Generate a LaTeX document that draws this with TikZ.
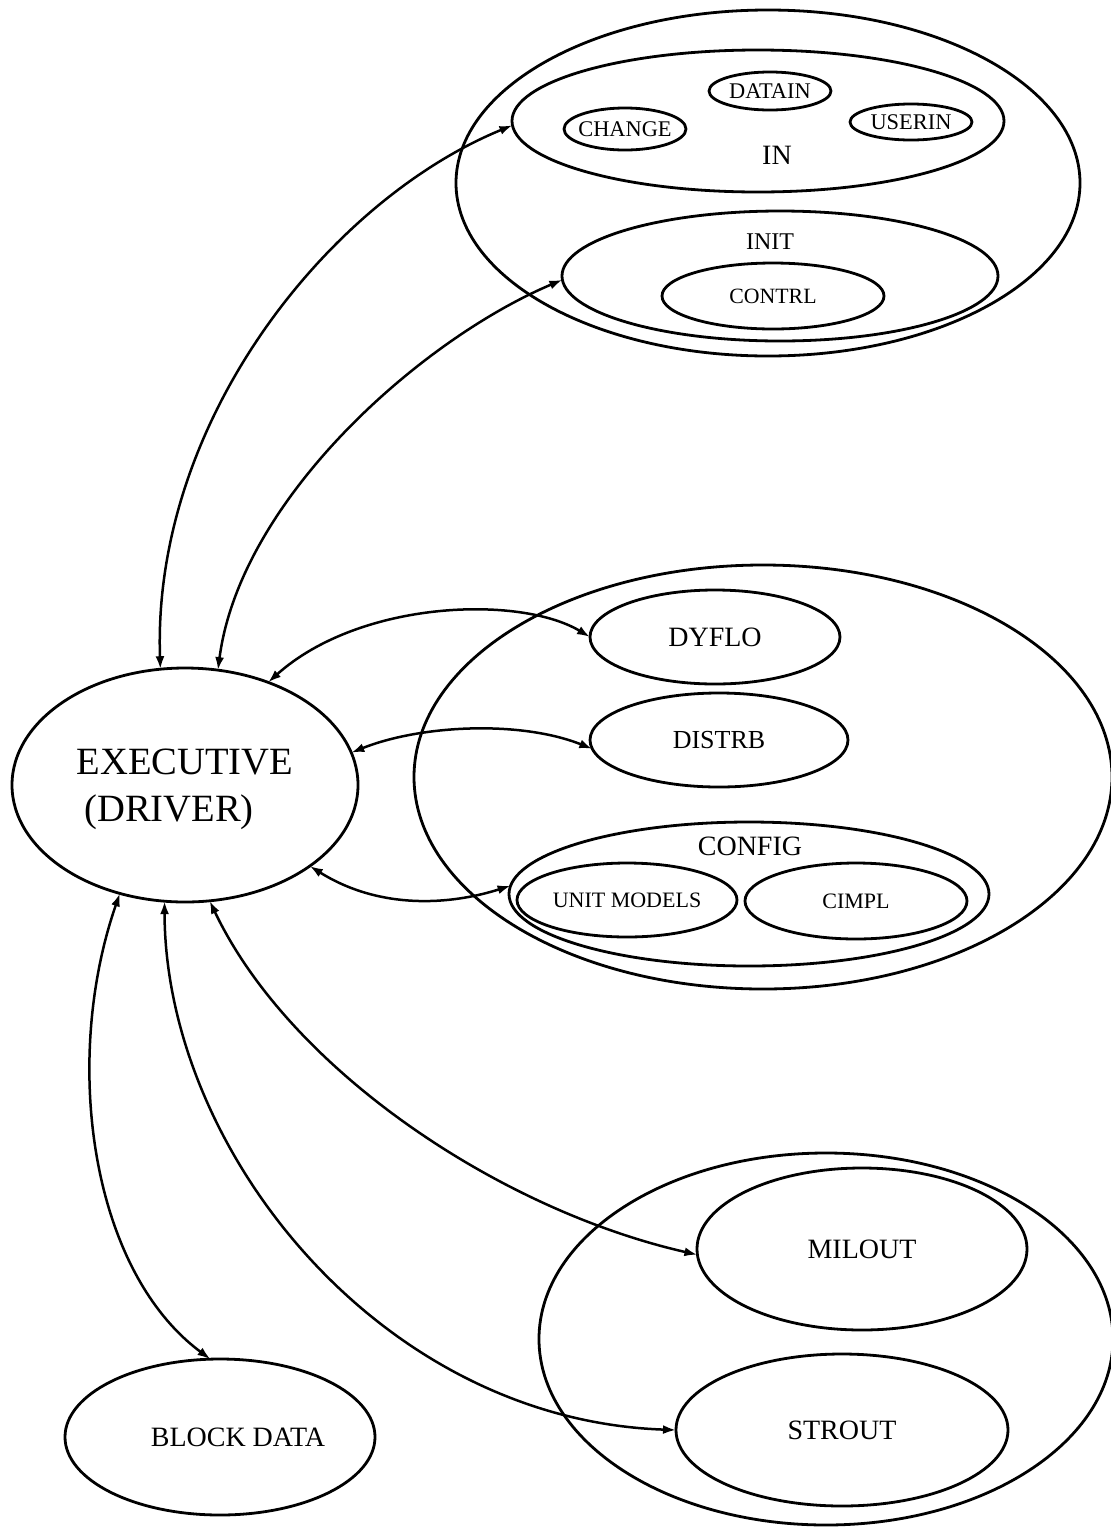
\documentclass[tikz,border=0pt]{standalone}
\usepackage{fontspec}
\setmainfont{Liberation Serif}
\usetikzlibrary{shapes.geometric,arrows.meta}
\begin{document}
\begin{tikzpicture}[x=0.5pt,y=-0.5pt,
  ell/.style={draw, ellipse, line width=1.4pt, inner sep=0pt, outer sep=0pt},
  conn/.style={line width=1.25pt, {Latex[length=6.5pt,width=4.5pt]}-{Latex[length=6.5pt,width=4.5pt]}},
  lab/.style={inner sep=0pt},
  fa/.style={font=\fontsize{11.2}{13}\selectfont},
  fb/.style={font=\fontsize{14}{16}\selectfont},
  fc/.style={font=\fontsize{19.3}{25}\selectfont}]
\useasboundingbox (0,0) rectangle (1110,1527);

% ---- top group ----
\node[ell, minimum width=312pt, minimum height=173pt] (topgrp) at (768,183) {};
\node[ell, minimum width=246pt, minimum height=71pt] (in) at (758,121) {};
\node[lab, fb] (inlab) at (777,155) {IN};
\node[ell, fa, minimum width=61pt, minimum height=21pt] (change) at (625,129) {\makebox[0pt]{CHANGE}};
\node[ell, fa, minimum width=61pt, minimum height=19pt] (datain) at (770,91) {\makebox[0pt]{DATAIN}};
\node[ell, fa, minimum width=61pt, minimum height=18pt] (userin) at (911,122) {\makebox[0pt]{USERIN}};
\node[ell, minimum width=218pt, minimum height=65pt] (init) at (780,276) {};
\node[lab, font=\fontsize{12}{14}\selectfont] (initlab) at (770,242) {INIT};
\node[ell, font=\fontsize{10.9}{13}\selectfont, minimum width=111pt, minimum height=33pt] (contrl) at (773,296) {\makebox[0pt]{CONTRL}};

% ---- middle group ----
\node[ell, minimum width=349pt, minimum height=212pt] (midgrp) at (763,777) {};
\node[ell, fb, minimum width=125pt, minimum height=47pt] (dyflo) at (715,637) {\makebox[0pt]{DYFLO}};
\node[ell, font=\fontsize{13}{15}\selectfont, minimum width=129pt, minimum height=47pt] (distrb) at (719,740) {\makebox[0pt]{DISTRB}};
\node[ell, minimum width=240pt, minimum height=72pt] (config) at (749,894) {};
\node[lab, fb] (configlab) at (750,846) {CONFIG};
\node[ell, font=\fontsize{11}{13}\selectfont, minimum width=110pt, minimum height=37pt] (unit) at (627,900) {\makebox[0pt]{UNIT MODELS}};
\node[ell, font=\fontsize{11}{13}\selectfont, minimum width=111pt, minimum height=38pt] (cimpl) at (856,901) {\makebox[0pt]{CIMPL}};

% ---- bottom group ----
\node[ell, minimum width=287pt, minimum height=186pt] (botgrp) at (826,1339) {};
\node[ell, fb, minimum width=165pt, minimum height=81pt] (milout) at (862,1249) {\makebox[0pt]{MILOUT}};
\node[ell, fb, minimum width=166pt, minimum height=76pt] (strout) at (842,1430) {\makebox[0pt]{STROUT}};
\node[ell, fb, minimum width=155pt, minimum height=78pt] (block) at (220,1437) {\makebox[0pt]{\hspace{18pt}BLOCK DATA}};

% ---- executive ----
\node[ell, minimum width=173pt, minimum height=117pt] (exec) at (185,785) {};
\node[lab, fc] (exectxt) at (185,762) {EXECUTIVE};
\node[lab, fc] (drvtxt) at (169,812) {(DRIVER)};

% ---- connectors ----
\draw[conn] (exec.102) .. controls (152,420) and (330,200) .. (in.181);
\draw[conn] (exec.74) .. controls (240,500) and (420,340) .. (init.181);
\draw[conn] (exec.51) .. controls (360,600) and (520,595) .. (dyflo.180);
\draw[conn] (exec.11) .. controls (420,725) and (520,720) .. (distrb.184);
\draw[conn] (exec.-33) .. controls (380,910) and (450,905) .. (config.178);
\draw[conn] (exec.-78) .. controls (290,1070) and (500,1210) .. (milout.182);
\draw[conn] (exec.-100) .. controls (165,1150) and (380,1420) .. (strout.180);
\draw[conn] (exec.-121) .. controls (62,1060) and (90,1270) .. (block.97);
\end{tikzpicture}
\end{document}
